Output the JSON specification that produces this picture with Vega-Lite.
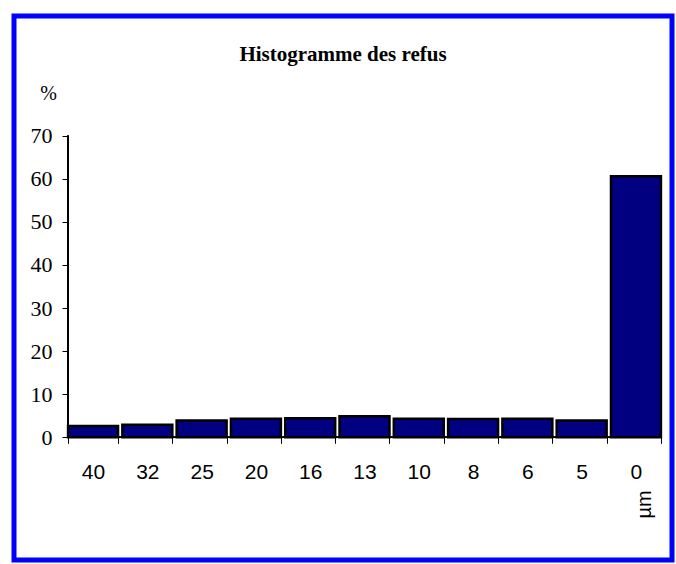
{
  "$schema": "https://vega.github.io/schema/vega-lite/v6.json",
  "width": 658,
  "height": 544,
  "autosize": {"type": "none"},
  "padding": {"left": 14, "top": 16, "right": 4, "bottom": 4},
  "background": "white",
  "config": {"view": {"stroke": "#0000ff", "strokeWidth": 5}},
  "title": {
    "text": "Histogramme des refus",
    "font": "Liberation Serif",
    "fontSize": 21,
    "fontWeight": "bold",
    "color": "black",
    "anchor": "middle",
    "baseline": "alphabetic",
    "offset": -66
  },
  "data": {
    "values": [
      {"taille": "40", "refus": 2.6},
      {"taille": "32", "refus": 2.9},
      {"taille": "25", "refus": 3.9},
      {"taille": "20", "refus": 4.3},
      {"taille": "16", "refus": 4.4},
      {"taille": "13", "refus": 4.9},
      {"taille": "10", "refus": 4.3},
      {"taille": "8", "refus": 4.25},
      {"taille": "6", "refus": 4.3},
      {"taille": "5", "refus": 3.9},
      {"taille": "0", "refus": 60.6}
    ]
  },
  "layer": [
    {
      "mark": {"type": "bar", "color": "#000080", "stroke": "black", "strokeWidth": 2.5},
      "encoding": {
        "x": {
          "field": "taille",
          "type": "nominal",
          "sort": null,
          "scale": {"paddingInner": 0.08, "paddingOuter": 0.6, "align": 0.83},
          "axis": {
            "orient": "bottom",
            "offset": -122.7,
            "domain": false,
            "grid": false,
            "tickBand": "extent",
            "tickSize": 6,
            "tickColor": "black",
            "tickWidth": 1,
            "labelAngle": 0,
            "labelFont": "Liberation Sans",
            "labelFontSize": 21,
            "labelColor": "black",
            "labelPadding": 18,
            "title": "µm",
            "titleFont": "Liberation Sans",
            "titleFontSize": 20,
            "titleFontWeight": "normal",
            "titleColor": "black",
            "titleAngle": 270,
            "titleAlign": "center",
            "titleBaseline": "middle",
            "titleX": 630,
            "titleY": 66.7
          }
        },
        "y": {
          "field": "refus",
          "type": "quantitative",
          "scale": {"domain": [-28.48, 97.78], "nice": false, "zero": false},
          "axis": {
            "orient": "left",
            "offset": -54,
            "domain": false,
            "grid": false,
            "values": [0, 10, 20, 30, 40, 50, 60, 70],
            "tickSize": 6,
            "tickColor": "black",
            "tickWidth": 1,
            "labelFont": "Liberation Serif",
            "labelFontSize": 22,
            "labelColor": "black",
            "labelPadding": 10,
            "title": "%",
            "titleFont": "Liberation Serif",
            "titleFontSize": 20,
            "titleFontWeight": "normal",
            "titleColor": "black",
            "titleAngle": 0,
            "titleAlign": "center",
            "titleBaseline": "middle",
            "titleX": -20,
            "titleY": 77
          }
        },
        "y2": {"datum": 0}
      }
    },
    {
      "mark": {"type": "rule", "color": "black", "strokeWidth": 1},
      "encoding": {
        "x": {"datum": "40", "bandPosition": 0},
        "y": {"datum": 0},
        "y2": {"datum": 70}
      }
    },
    {
      "mark": {"type": "rule", "color": "black", "strokeWidth": 1},
      "encoding": {
        "x": {"datum": "40", "bandPosition": 0},
        "x2": {"datum": "0", "bandPosition": 1},
        "y": {"datum": 0}
      }
    }
  ]
}
